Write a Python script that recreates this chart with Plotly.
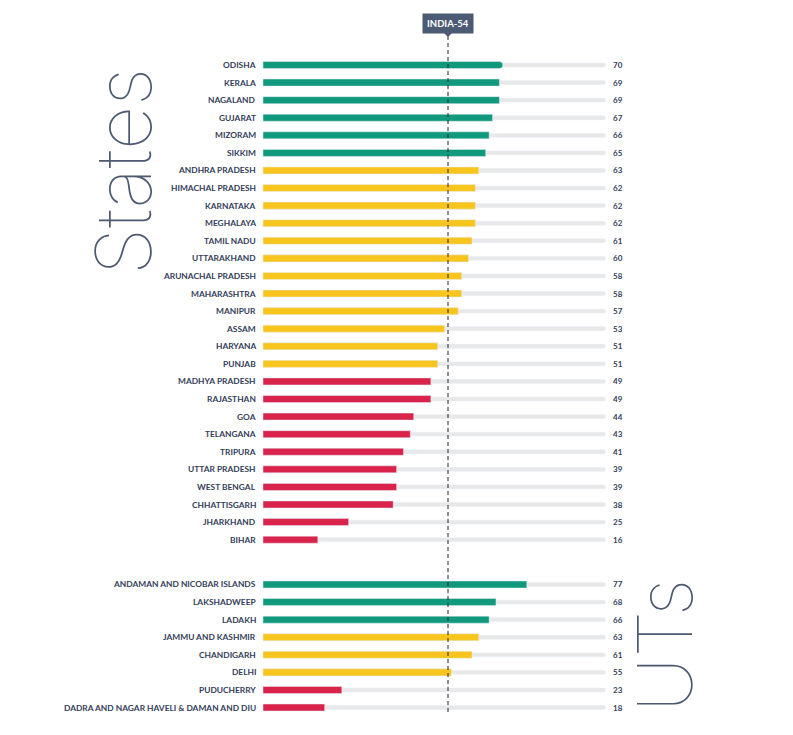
import plotly.graph_objects as go

# SDG India Index scores
states = ["ODISHA", "KERALA", "NAGALAND", "GUJARAT", "MIZORAM", "SIKKIM",
          "ANDHRA PRADESH", "HIMACHAL PRADESH", "KARNATAKA", "MEGHALAYA",
          "TAMIL NADU", "UTTARAKHAND", "ARUNACHAL PRADESH", "MAHARASHTRA",
          "MANIPUR", "ASSAM", "HARYANA", "PUNJAB", "MADHYA PRADESH",
          "RAJASTHAN", "GOA", "TELANGANA", "TRIPURA", "UTTAR PRADESH",
          "WEST BENGAL", "CHHATTISGARH", "JHARKHAND", "BIHAR"]
state_scores = [70, 69, 69, 67, 66, 65, 63, 62, 62, 62, 61, 60, 58, 58,
                57, 53, 51, 51, 49, 49, 44, 43, 41, 39, 39, 38, 25, 16]

uts = ["ANDAMAN AND NICOBAR ISLANDS", "LAKSHADWEEP", "LADAKH",
       "JAMMU AND KASHMIR", "CHANDIGARH", "DELHI", "PUDUCHERRY",
       "DADRA AND NAGAR HAVELI & DAMAN AND DIU"]
ut_scores = [77, 68, 66, 63, 61, 55, 23, 18]

india_score = 54
max_score = 100

GREEN = "#10997c"
YELLOW = "#f8c51f"
RED = "#d9234b"
TRACK = "#e8e8e8"
INK = "#34405a"
SLATE = "#4b5b74"

# page body keeps its default 8px margin, so the figure is a bit smaller
W, H = 785, 727


def band_colour(v):
    if v >= 65:
        return GREEN
    if v >= 50:
        return YELLOW
    return RED


def py(px):
    # page pixel (from top) -> paper y
    return 1 - (px - 8) / H


def px_(px):
    return (px - 8) / W


names = states + uts
scores = state_scores + ut_scores
gap = 2.55
rows = list(range(len(states))) + [len(states) - 1 + gap + j for j in range(len(uts))]
colours = [band_colour(v) for v in scores]

fig = go.Figure()
fig.add_trace(go.Bar(
    x=[max_score] * len(rows), y=rows, orientation="h", width=0.22,
    marker=dict(color=TRACK, cornerradius=2), hoverinfo="skip", showlegend=False
))
fig.add_trace(go.Bar(
    x=scores, y=rows, orientation="h", width=0.40,
    marker=dict(color=colours, cornerradius=4), showlegend=False,
    hovertext=names, hoverinfo="text+x"
))

annotations = []
for n, r, v in zip(names, rows, scores):
    annotations.append(dict(
        x=0, y=r, xref="x", yref="y", text=n, showarrow=False,
        xanchor="right", yanchor="middle", xshift=-5,
        font=dict(family="Lato", size=8.4, color=INK, weight="bold")
    ))
    annotations.append(dict(
        x=max_score + 1.6, y=r, xref="x", yref="y", text=str(v), showarrow=False,
        xanchor="left", yanchor="middle",
        font=dict(family="Lato", size=8, color=INK, weight="bold")
    ))

annotations.append(dict(
    x=india_score, y=py(23.5), xref="x", yref="paper",
    text="INDIA-%d" % india_score, showarrow=False,
    xanchor="center", yanchor="middle",
    bgcolor=SLATE, borderpad=4,
    font=dict(family="Lato", size=9.5, color="white", weight="bold")
))
annotations.append(dict(
    x=px_(123), y=py(172), xref="paper", yref="paper", text="States",
    showarrow=False, textangle=-90, xanchor="center", yanchor="middle",
    font=dict(family="Inter, Roboto", size=77, color="#4d5a70", weight=100)
))
annotations.append(dict(
    x=px_(664), y=py(646), xref="paper", yref="paper", text="UTs",
    showarrow=False, textangle=-90, xanchor="center", yanchor="middle",
    font=dict(family="Inter, Roboto", size=76, color="#4d5a70", weight=100)
))

shapes = [
    dict(type="line", xref="x", yref="paper", x0=india_score, x1=india_score,
         y0=py(36), y1=py(712), layer="above",
         line=dict(color="#222222", width=1, dash="4px,3px")),
    dict(type="path", xref="x", yref="paper", xsizemode="pixel", ysizemode="pixel",
         xanchor=india_score, yanchor=py(33),
         path="M -4,0 L 4,0 L 0,-4 Z", fillcolor=SLATE, line=dict(width=0)),
]

fig.update_layout(
    width=W, height=H,
    margin=dict(l=0, r=0, t=0, b=0),
    paper_bgcolor="white", plot_bgcolor="white",
    barmode="overlay",
    xaxis=dict(range=[-255 / 3.426, (W - 255) / 3.426], visible=False, fixedrange=True),
    yaxis=dict(range=[(H - 57) / 17.58, -57 / 17.58], visible=False, fixedrange=True),
    annotations=annotations,
    shapes=shapes,
)

fig.write_html("out.html")
